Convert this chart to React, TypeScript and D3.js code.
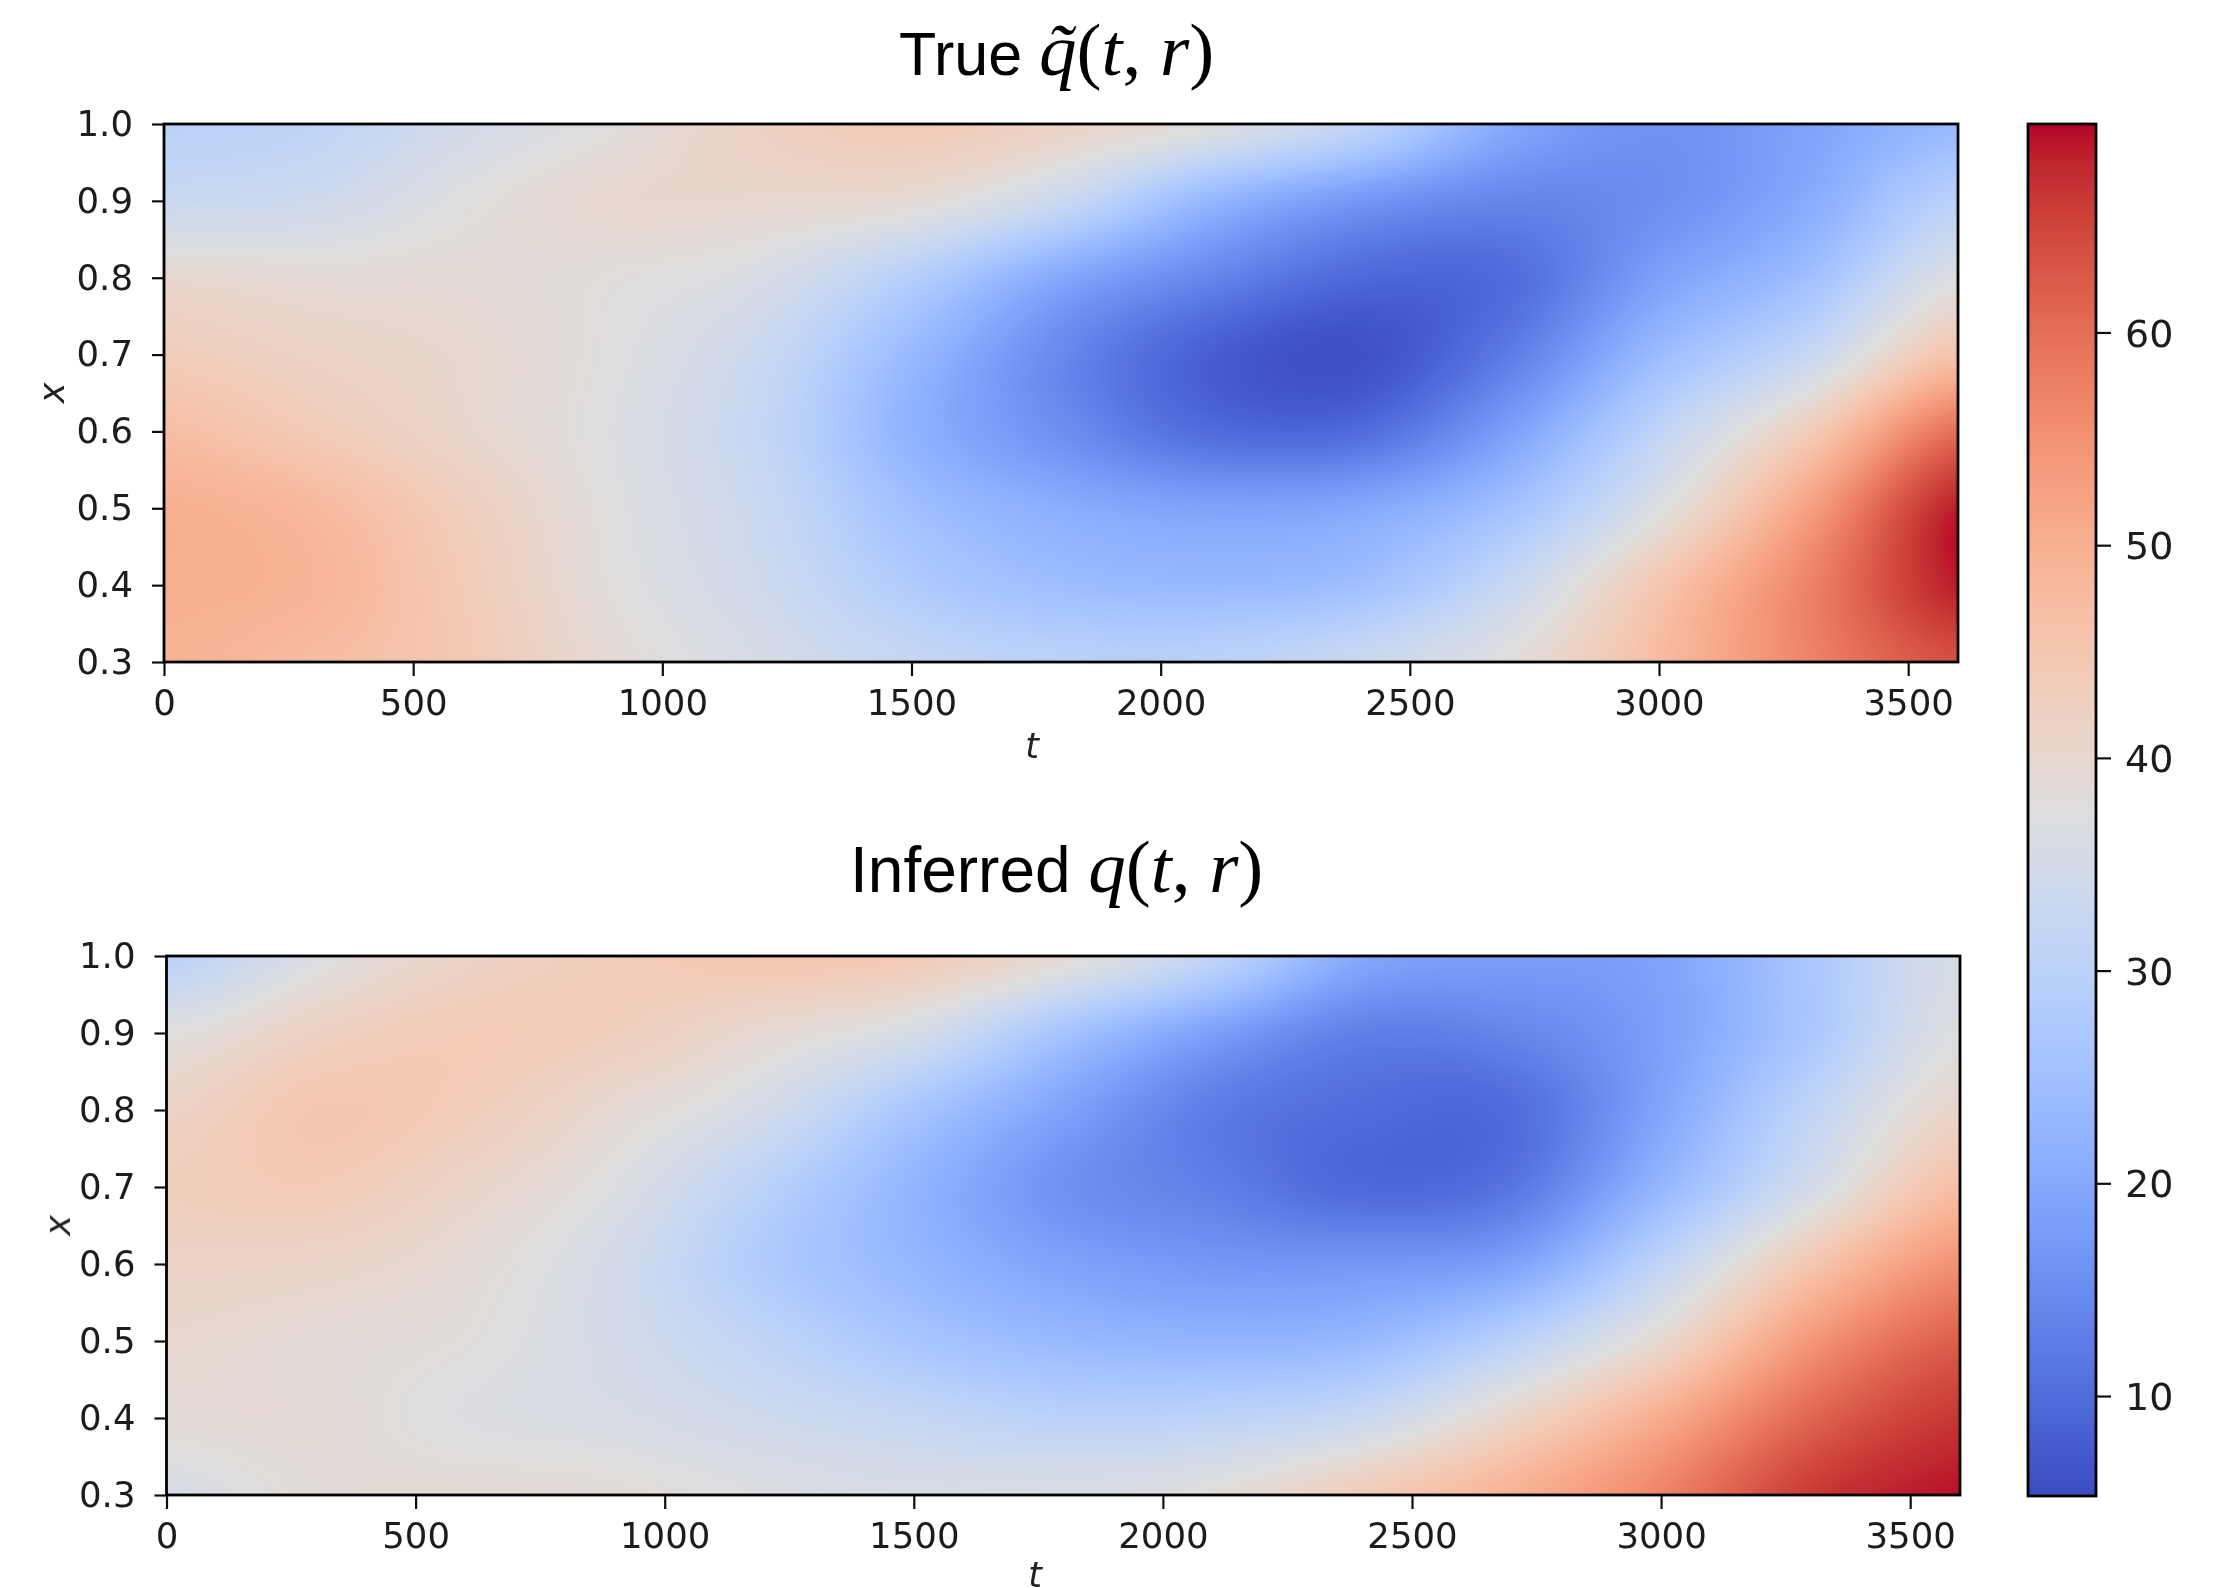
import React, { useEffect, useRef } from 'react';
import * as d3 from 'd3';

const width = 2214;
const height = 1588;

// samples of the fields (rows from x=1.0 down to x=0.3)
const timeSteps = [0, 300, 600, 900, 1200, 1500, 1800, 2100, 2400, 2700, 3000, 3300, 3600];
const radii = [1.0, 0.9, 0.8, 0.7, 0.6, 0.5, 0.4, 0.3];

const trueField = [
  [30, 31, 35, 38, 42, 44, 41.5, 37.5, 31, 20, 16, 19, 23.5],
  [33, 34, 37.5, 40, 40, 39, 33, 23, 17, 14, 15.5, 20.5, 30],
  [40, 39, 39, 38, 36, 29, 20, 14, 9.5, 10, 18.5, 25, 37],
  [43.5, 41.5, 40, 37.5, 33, 23.5, 14.5, 8, 6, 12.5, 24, 32.5, 46],
  [47, 44, 40.5, 37, 32, 22, 15.5, 10, 10, 18.5, 31, 43.5, 60],
  [50, 48, 43, 37.5, 33, 25, 21, 19, 20, 25.5, 37, 52.5, 68.5],
  [50, 49, 44, 38, 34, 28, 24.5, 23.5, 25, 32.5, 45, 57, 68.5],
  [49.5, 47.5, 44.5, 39, 35.5, 32, 30, 30, 33, 38, 47.5, 57, 64],
];

const inferredField = [
  [30, 37, 41.5, 43.5, 45, 44, 39, 31, 20, 18, 19, 27, 36],
  [37.5, 42, 44, 43, 39.5, 35.5, 26, 18.5, 13, 14, 18.5, 27, 37.5],
  [41.5, 45, 43.5, 39.5, 35, 26.5, 19, 12.5, 10, 10, 19.5, 31, 41],
  [43, 44, 41, 37, 30, 22.5, 16, 13, 9.5, 11.5, 23, 35, 47],
  [41.5, 41, 39, 35, 28, 23, 19, 17, 17, 19, 31, 45, 55],
  [40, 39, 38, 35, 31, 26.5, 23.5, 22.5, 23.5, 30, 40, 54, 62],
  [39, 39, 37, 36, 34, 32, 30, 30.5, 33, 41, 50.5, 61, 66.5],
  [36, 38.5, 39, 38.5, 37, 36, 36.5, 38, 43.5, 49.5, 57, 66, 69],
];

const xTicks = [0, 500, 1000, 1500, 2000, 2500, 3000, 3500];
const yTicks = [0.3, 0.4, 0.5, 0.6, 0.7, 0.8, 0.9, 1.0];
const cbarTicks = [10, 20, 30, 40, 50, 60];

// matplotlib coolwarm
const coolwarm = [
  '#3b4cc0', '#445acc', '#4d68d7', '#5775e1', '#6282ea', '#6c8ef1', '#779af7', '#82a5fb',
  '#8db0fe', '#98b9ff', '#a3c2ff', '#aec9fd', '#b8d0f9', '#c2d5f4', '#ccd9ee', '#d5dbe6',
  '#dddddd', '#e5d8d1', '#ecd3c5', '#f1ccb9', '#f5c4ad', '#f7bba0', '#f7b194', '#f7a687',
  '#f49a7b', '#f18d6f', '#ec7f63', '#e57058', '#de604d', '#d55042', '#cb3e38', '#c0282f',
  '#b40426',
];

const vMin = 5.3;
const vMax = 69.8;
const color = d3.scaleLinear<string>()
  .domain(coolwarm.map((_, i) => vMin + (vMax - vMin) * i / (coolwarm.length - 1)))
  .range(coolwarm)
  .clamp(true);

// bicubic like imshow(interpolation='bicubic')
const cubic = (p0: number, p1: number, p2: number, p3: number, s: number) =>
  p1 + 0.5 * s * (p2 - p0 + s * (2 * p0 - 5 * p1 + 4 * p2 - p3 + s * (3 * (p1 - p2) + p3 - p0)));

const sampleField = (field: number[][], c: number, r: number) => {
  const nc = field[0].length;
  const nr = field.length;
  const c0 = Math.min(Math.floor(c), nc - 2);
  const r0 = Math.min(Math.floor(r), nr - 2);
  const at = (i: number, j: number) =>
    field[Math.max(0, Math.min(nr - 1, i))][Math.max(0, Math.min(nc - 1, j))];
  const col = [-1, 0, 1, 2].map(k =>
    cubic(at(r0 + k, c0 - 1), at(r0 + k, c0), at(r0 + k, c0 + 1), at(r0 + k, c0 + 2), c - c0));
  return cubic(col[0], col[1], col[2], col[3], r - r0);
};

const panels = [
  { field: trueField, left: 164, right: 1958, top: 124, bottom: 662, xLabelX: 1032, xLabelY: 758, yLabelX: 64 },
  { field: inferredField, left: 166.5, right: 1960, top: 956, bottom: 1495, xLabelX: 1035, xLabelY: 1587, yLabelX: 70 },
];

const cbar = { left: 2028, right: 2096, top: 124, bottom: 1496 };

const App = () => {
  const svgRef = useRef<SVGSVGElement>(null);

  useEffect(() => {
    const svg = d3.select(svgRef.current);
    svg.selectAll('*').remove();

    svg.append('defs').append('filter').attr('id', 'soft')
      .append('feGaussianBlur').attr('stdDeviation', 0.6);

    const drawAxes = (p: typeof panels[number]) => {
      const x = d3.scaleLinear().domain([0, 3600]).range([p.left, p.right]);
      const y = d3.scaleLinear().domain([0.3, 1.0]).range([p.bottom, p.top]);

      // fine raster of the field, then placed as an image
      const w = Math.round(p.right - p.left);
      const h = Math.round(p.bottom - p.top);
      const canvas = document.createElement('canvas');
      canvas.width = w;
      canvas.height = h;
      const ctx = canvas.getContext('2d')!;
      const colIdx = d3.scaleLinear().domain(d3.extent(timeSteps) as number[]).range([0, timeSteps.length - 1]);
      const rowIdx = d3.scaleLinear().domain([1.0, 0.3]).range([0, radii.length - 1]);
      for (let j = 0; j < h; j++) {
        for (let i = 0; i < w; i++) {
          const t = x.invert(p.left + i + 0.5);
          const r = y.invert(p.top + j + 0.5);
          ctx.fillStyle = color(sampleField(p.field, colIdx(t), rowIdx(r)));
          ctx.fillRect(i, j, 1, 1);
        }
      }
      svg.append('image')
        .attr('href', canvas.toDataURL())
        .attr('x', p.left).attr('y', p.top)
        .attr('width', p.right - p.left).attr('height', p.bottom - p.top)
        .attr('preserveAspectRatio', 'none');

      const g = svg.append('g').attr('filter', 'url(#soft)');

      const xg = g.append('g')
        .attr('transform', `translate(0,${p.bottom})`)
        .call(d3.axisBottom(x).tickValues(xTicks).tickFormat(d3.format('d')).tickSize(14).tickPadding(14).tickSizeOuter(0));
      const yg = g.append('g')
        .attr('transform', `translate(${p.left},0)`)
        .call(d3.axisLeft(y).tickValues(yTicks).tickFormat(d3.format('.1f')).tickSize(12).tickPadding(19).tickSizeOuter(0));
      for (const a of [xg, yg]) {
        a.select('.domain').remove();
        a.selectAll('line').attr('stroke', '#111').attr('stroke-width', 2.2);
        a.selectAll('text').attr('fill', '#1c1c1c')
          .attr('font-family', 'DejaVu Sans').attr('font-size', 35.5);
      }

      g.append('rect')
        .attr('x', p.left).attr('y', p.top)
        .attr('width', p.right - p.left).attr('height', p.bottom - p.top)
        .attr('fill', 'none').attr('stroke', '#000').attr('stroke-width', 2.8);

      g.append('text').text('t')
        .attr('x', p.xLabelX).attr('y', p.xLabelY)
        .attr('text-anchor', 'middle').attr('fill', '#222')
        .attr('font-family', 'DejaVu Sans').attr('font-style', 'italic').attr('font-size', 35);
      const yMid = (p.top + p.bottom) / 2;
      g.append('text').text('x')
        .attr('transform', `translate(${p.yLabelX},${yMid}) rotate(-90)`)
        .attr('text-anchor', 'middle').attr('fill', '#222')
        .attr('font-family', 'DejaVu Sans').attr('font-style', 'italic').attr('font-size', 35);
    };
    panels.forEach(drawAxes);

    // colorbar
    const cy = d3.scaleLinear().domain([vMin, vMax]).range([cbar.bottom, cbar.top]);
    svg.append('g').selectAll('rect')
      .data(d3.range(cbar.top, cbar.bottom))
      .enter()
      .append('rect')
      .attr('x', cbar.left)
      .attr('y', d => d)
      .attr('width', cbar.right - cbar.left)
      .attr('height', 1.5)
      .attr('fill', d => color(cy.invert(d + 0.5)));

    const cg = svg.append('g').attr('filter', 'url(#soft)');
    const cax = cg.append('g')
      .attr('transform', `translate(${cbar.right},0)`)
      .call(d3.axisRight(cy).tickValues(cbarTicks).tickFormat(d3.format('d')).tickSize(15).tickPadding(14).tickSizeOuter(0));
    cax.select('.domain').remove();
    cax.selectAll('line').attr('stroke', '#111').attr('stroke-width', 2.2);
    cax.selectAll('text').attr('fill', '#1c1c1c').attr('dy', '0.36em')
      .attr('font-family', 'DejaVu Sans').attr('font-size', 38);
    cg.append('rect')
      .attr('x', cbar.left).attr('y', cbar.top)
      .attr('width', cbar.right - cbar.left).attr('height', cbar.bottom - cbar.top)
      .attr('fill', 'none').attr('stroke', '#000').attr('stroke-width', 2.8);
  }, []);

  const serif = { fontFamily: 'Liberation Serif', fontSize: 75 };
  const titleStyle = { fontFamily: 'Liberation Sans', fontSize: 61, fill: '#000' };
  const it = { ...serif, fontStyle: 'italic' as const };

  return (
    <div>
      <svg ref={svgRef} width={width} height={height} style={{ position: 'absolute', left: 0, top: 0 }} />
      <svg width={width} height={height} style={{ position: 'absolute', left: 0, top: 0, pointerEvents: 'none' }}>
        <text x={899} y={75} style={titleStyle}>
          True <tspan style={it}>{'q\u0303'}</tspan><tspan style={serif}>(</tspan><tspan style={it}>t</tspan><tspan style={serif}>, </tspan><tspan style={it}>r</tspan><tspan style={serif}>)</tspan>
        </text>
        <text x={850} y={892} style={{ ...titleStyle, fontSize: 64 }}>
          Inferred <tspan style={it}>q</tspan><tspan style={serif}>(</tspan><tspan style={it}>t</tspan><tspan style={serif}>, </tspan><tspan style={it}>r</tspan><tspan style={serif}>)</tspan>
        </text>
      </svg>
    </div>
  );
};

export default App;
